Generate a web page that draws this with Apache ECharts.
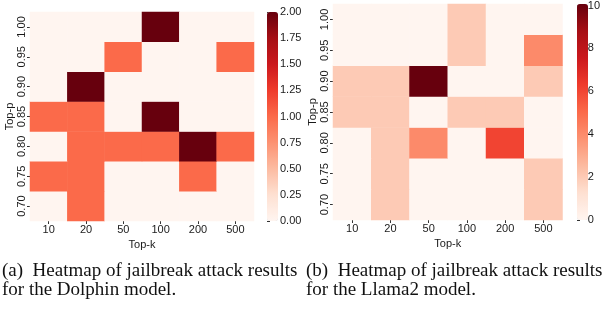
<!DOCTYPE html>
<html><head><meta charset="utf-8">
<script src="https://cdn.jsdelivr.net/npm/echarts@6/dist/echarts.min.js"></script>
<style>html,body{margin:0;padding:0;background:#fff}#c{width:603px;height:309px}</style>
</head><body><div id="c"></div>
<script>
const topK = ['10','20','50','100','200','500'];
const topP = ['0.70','0.75','0.80','0.85','0.90','0.95','1.00'];
// rows ordered as topP (0.70 -> 1.00), columns as topK
const dolphinValues = [
  [0,1,0,0,0,0],
  [1,1,0,0,1,0],
  [0,1,1,1,2,1],
  [1,1,0,2,0,0],
  [0,2,0,0,0,0],
  [0,0,1,0,0,1],
  [0,0,0,2,0,0]
];
const llamaValues = [
  [0,2,0,0,0,2],
  [0,2,0,0,0,2],
  [0,2,4,0,6,0],
  [2,2,0,2,2,0],
  [2,2,10,0,0,2],
  [0,0,0,2,0,4],
  [0,0,0,2,0,0]
];
const dolphinRange = [0, 2];
const llamaRange = [0, 10];
const dolphinTickStep = 0.25;
const llamaTickStep = 2;
const captionA = ['(a)  Heatmap of jailbreak attack results', 'for the Dolphin model.'];
const captionB = ['(b)  Heatmap of jailbreak attack results', 'for the Llama2 model.'];

const reds = ['#fff5f0','#fee0d2','#fcbba1','#fc9272','#fb6a4a','#ef3b2c','#cb181d','#a50f15','#67000d'];
const FONT = 'Liberation Sans';
const TXT = '#1a1a1a';
const FS = 11;

function toCells(m){
  const out = [];
  m.forEach((row, yi) => row.forEach((v, xi) => out.push([xi, yi, v])));
  return out;
}
const grids = [
  {left:30, top:12, width:224, height:209},
  {left:333, top:4, width:229.5, height:216},
  {left:267, top:12, width:11, height:209},
  {left:577, top:4, width:11, height:216}
];
function catX(gi){
  return {type:'category', gridIndex:gi, data:topK,
    axisLine:{show:false}, splitLine:{show:false},
    axisTick:{show:true, alignWithLabel:true, length:3, lineStyle:{color:'#333'}},
    axisLabel:{fontFamily:FONT, fontSize:FS, color:TXT, margin:3},
    name:'Top-k', nameLocation:'middle', nameGap:16,
    nameTextStyle:{fontFamily:FONT, fontSize:FS, color:TXT}};
}
function catY(gi){
  return {type:'category', gridIndex:gi, data:topP,
    axisLine:{show:false}, splitLine:{show:false},
    axisTick:{show:true, alignWithLabel:true, length:3, lineStyle:{color:'#333'}},
    axisLabel:{fontFamily:FONT, fontSize:FS, color:TXT, margin:3, rotate:90},
    name:'Top-p', nameLocation:'middle', nameGap:15,
    nameTextStyle:{fontFamily:FONT, fontSize:FS, color:TXT}};
}
function cbY(gi, range, step, digits){
  return {type:'value', gridIndex:gi, min:range[0], max:range[1], interval:step, position:'right',
    axisLine:{show:false}, splitLine:{show:false},
    axisTick:{show:true, length:3, lineStyle:{color:'#333'}},
    axisLabel:{fontFamily:FONT, fontSize:FS, color:TXT, margin:2, formatter:v=>v.toFixed(digits)}};
}
function cbX(gi){
  return {type:'value', gridIndex:gi, show:false, min:0, max:1};
}
const chart = echarts.init(document.getElementById('c'), null, {renderer:'canvas'});
chart.setOption({
  animation:false,
  backgroundColor:'#fff',
  grid: grids,
  xAxis:[catX(0), catX(1), cbX(2), cbX(3)],
  yAxis:[catY(0), catY(1), cbY(2, dolphinRange, dolphinTickStep, 2), cbY(3, llamaRange, llamaTickStep, 0)],
  visualMap:[
    {type:'continuous', min:dolphinRange[0], max:dolphinRange[1], seriesIndex:0, calculable:false,
     orient:'vertical', left:267, top:12, itemWidth:11, itemHeight:209, padding:0, text:null,
     inRange:{color:reds}, hoverLink:false},
    {type:'continuous', min:llamaRange[0], max:llamaRange[1], seriesIndex:1, calculable:false,
     orient:'vertical', left:577, top:4, itemWidth:11, itemHeight:216, padding:0, text:null,
     inRange:{color:reds}, hoverLink:false}
  ],
  series:[
    {type:'heatmap', xAxisIndex:0, yAxisIndex:0, data:toCells(dolphinValues), itemStyle:{borderWidth:0}, emphasis:{disabled:true}},
    {type:'heatmap', xAxisIndex:1, yAxisIndex:1, data:toCells(llamaValues), itemStyle:{borderWidth:0}, emphasis:{disabled:true}}
  ],
  graphic:[
    {type:'text', left:2, top:262, style:{text:captionA.join('\n'), font:'19px "Liberation Serif"', fill:'#111', lineHeight:19}},
    {type:'text', left:306, top:262, style:{text:captionB.join('\n'), font:'19px "Liberation Serif"', fill:'#111', lineHeight:19}}
  ]
});
</script></body></html>
